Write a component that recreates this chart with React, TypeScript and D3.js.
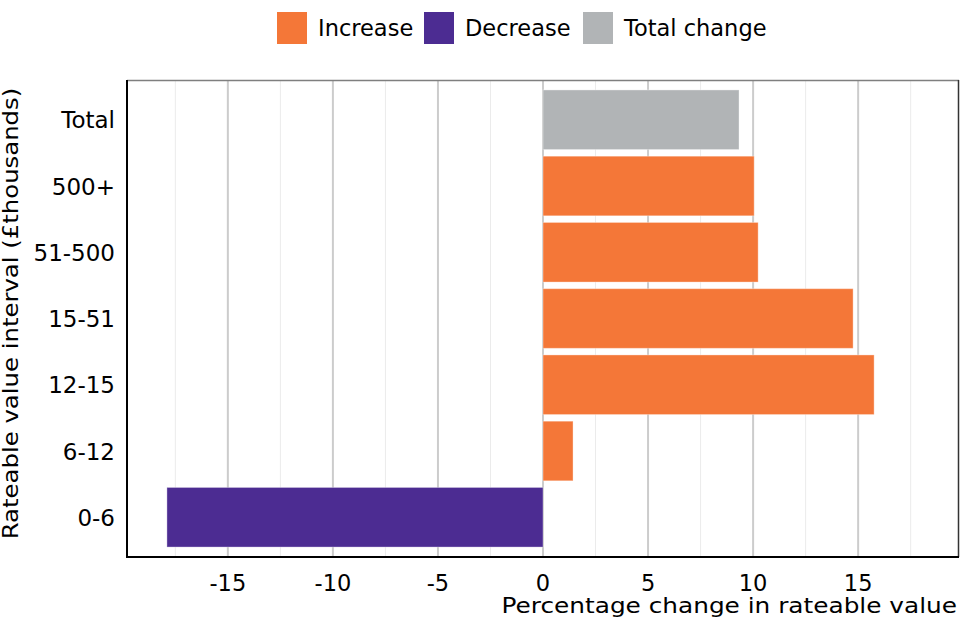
import { useEffect, useRef } from "react";
import * as d3 from "d3";

const categories = ["Total", "500+", "51-500", "15-51", "12-15", "6-12", "0-6"];
const changes = [9.33, 10.05, 10.24, 14.76, 15.76, 1.43, -17.9];
const kinds = ["Total change", "Increase", "Increase", "Increase", "Increase", "Increase", "Decrease"];
const legendKeys = ["Increase", "Decrease", "Total change"];
const xTicks = [-15, -10, -5, 0, 5, 10, 15];
const xMinor = [-17.5, -12.5, -7.5, -2.5, 2.5, 7.5, 12.5, 17.5];

const WIDTH = 960;
const HEIGHT = 640;
const MARGIN = { top: 80, right: 1, bottom: 83, left: 127 };
const FONT = "DejaVu Sans, sans-serif";

const colours: Record<string, string> = {
  Increase: "#f47738",
  Decrease: "#4c2c92",
  "Total change": "#b1b4b6",
};

export default function App() {
  const svgRef = useRef<SVGSVGElement | null>(null);

  useEffect(() => {
    document.body.style.margin = "0";
    const svgEl = svgRef.current;
    if (!svgEl) return;

    const svg = d3.select(svgEl);
    svg.selectAll("*").remove();

    const x0 = MARGIN.left;
    const x1 = WIDTH - MARGIN.right;
    const y0 = MARGIN.top;
    const y1 = HEIGHT - MARGIN.bottom;

    // limits -18..18 with 5% expansion, like ggplot
    const x = d3.scaleLinear().domain([-19.8, 19.8]).range([x0, x1]);

    const y = d3
      .scaleBand()
      .domain(categories)
      .range([y0, y1])
      .paddingInner(0.1)
      .paddingOuter(0.15);

    // minor grid
    svg
      .append("g")
      .selectAll("line")
      .data(xMinor)
      .join("line")
      .attr("x1", (d) => x(d))
      .attr("x2", (d) => x(d))
      .attr("y1", y0)
      .attr("y2", y1)
      .attr("stroke", "#ebebeb")
      .attr("stroke-width", 1);

    // major grid
    svg
      .append("g")
      .selectAll("line")
      .data(xTicks)
      .join("line")
      .attr("x1", (d) => x(d))
      .attr("x2", (d) => x(d))
      .attr("y1", y0)
      .attr("y2", y1)
      .attr("stroke", "#cccccc")
      .attr("stroke-width", 2);

    // bars
    svg
      .append("g")
      .selectAll("rect")
      .data(categories)
      .join("rect")
      .attr("x", (_, i) => x(Math.min(0, changes[i])))
      .attr("width", (_, i) => Math.abs(x(changes[i]) - x(0)))
      .attr("y", (d) => y(d) as number)
      .attr("height", y.bandwidth())
      .attr("fill", (_, i) => colours[kinds[i]])
      .attr("stroke", "rgba(255,255,255,0.35)")
      .attr("stroke-width", 1);

    // panel border
    svg
      .append("line")
      .attr("x1", x0)
      .attr("x2", x1)
      .attr("y1", y0 + 0.5)
      .attr("y2", y0 + 0.5)
      .attr("stroke", "#7f7f7f")
      .attr("stroke-width", 1.5);
    svg
      .append("line")
      .attr("x1", x1 - 0.5)
      .attr("x2", x1 - 0.5)
      .attr("y1", y0)
      .attr("y2", y1)
      .attr("stroke", "#333333")
      .attr("stroke-width", 1.5);
    svg
      .append("path")
      .attr("d", `M${x0},${y0}V${y1}H${x1}`)
      .attr("fill", "none")
      .attr("stroke", "#000")
      .attr("stroke-width", 2);

    // x tick labels
    svg
      .append("g")
      .selectAll("text")
      .data(xTicks)
      .join("text")
      .attr("x", (d) => x(d))
      .attr("y", y1 + 34)
      .attr("text-anchor", "middle")
      .attr("font-family", FONT)
      .attr("font-size", 22.5)
      .attr("fill", "#000")
      .text((d) => String(d));

    // y tick labels
    svg
      .append("g")
      .selectAll("text")
      .data(categories)
      .join("text")
      .attr("x", x0 - 12)
      .attr("y", (d) => (y(d) as number) + y.bandwidth() / 2)
      .attr("dy", "0.37em")
      .attr("text-anchor", "end")
      .attr("font-family", FONT)
      .attr("font-size", 23)
      .attr("fill", "#000")
      .text((d) => d);

    // axis titles (the reference face is a touch wider than DejaVu)
    svg
      .append("text")
      .attr("transform", `translate(${x1 - 2},${y1 + 56}) scale(1.18,1)`)
      .attr("text-anchor", "end")
      .attr("font-family", FONT)
      .attr("font-size", 21)
      .attr("fill", "#000")
      .text("Percentage change in rateable value");

    svg
      .append("text")
      .attr("transform", `translate(18,${(y0 + y1) / 2 - 5}) rotate(-90) scale(1.16,1)`)
      .attr("text-anchor", "middle")
      .attr("font-family", FONT)
      .attr("font-size", 21)
      .attr("fill", "#000")
      .text("Rateable value interval (£thousands)");

    // legend
    const legendX = [277, 424, 583];
    const legend = svg
      .append("g")
      .selectAll("g")
      .data(legendKeys)
      .join("g")
      .attr("transform", (_, i) => `translate(${legendX[i]},12)`);
    legend
      .append("rect")
      .attr("width", 30)
      .attr("height", 32)
      .attr("fill", (d) => colours[d]);
    legend
      .append("text")
      .attr("x", 41)
      .attr("y", 23.5)
      .attr("font-family", FONT)
      .attr("font-size", 22.5)
      .attr("fill", "#000")
      .text((d) => d);
  }, []);

  return <svg ref={svgRef} width={WIDTH} height={HEIGHT} style={{ display: "block" }} />;
}
